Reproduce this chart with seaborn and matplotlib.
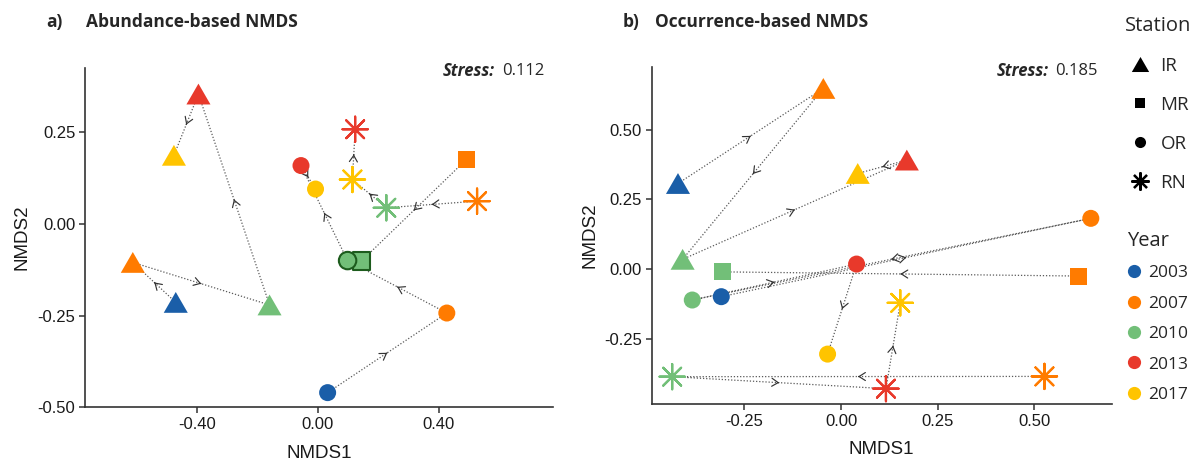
import matplotlib
matplotlib.use("Agg")
import numpy as np
import pandas as pd
import matplotlib.pyplot as plt
from matplotlib.path import Path
from matplotlib.lines import Line2D
import seaborn as sns

# ---------------- data ----------------
stations = ["IR", "MR", "OR", "RN"]
years = ["2003", "2007", "2010", "2013", "2017"]
year_colors = ["#1a5ea8", "#ff7b00", "#72bf78", "#e8392b", "#ffc400"]

# panel a) abundance-based NMDS
a_station = ["IR", "IR", "IR", "IR", "IR", "MR", "MR",
             "OR", "OR", "OR", "OR", "OR", "RN", "RN", "RN", "RN"]
a_year = ["2003", "2007", "2010", "2013", "2017", "2007", "2010",
          "2003", "2007", "2010", "2013", "2017", "2007", "2010", "2013", "2017"]
a_x = [-0.470, -0.612, -0.160, -0.395, -0.476, 0.490, 0.144,
       0.032, 0.426, 0.098, -0.056, -0.008, 0.526, 0.226, 0.123, 0.114]
a_y = [-0.214, -0.105, -0.221, 0.354, 0.187, 0.175, -0.101,
       -0.460, -0.243, -0.100, 0.159, 0.095, 0.062, 0.044, 0.258, 0.121]
a_paths = {"IR": ["2003", "2007", "2010", "2013", "2017"],
           "MR": ["2007", "2010"],
           "OR": ["2003", "2007", "2010", "2013", "2017"],
           "RN": ["2007", "2010", "2017", "2013"]}
a_outlined = [("MR", "2010"), ("OR", "2010")]
a_stress = "0.112"
a_xticks = [-0.40, 0.00, 0.40]
a_xticklabels = ["-0.40", "0.00", "0.40"]
a_yticks = [-0.50, -0.25, 0.00, 0.25]
a_yticklabels = ["-0.50", "-0.25", "0.00", "0.25"]

# panel b) occurrence-based NMDS
b_station = ["IR", "IR", "IR", "IR", "IR", "MR", "MR",
             "OR", "OR", "OR", "OR", "OR", "RN", "RN", "RN", "RN"]
b_year = ["2003", "2007", "2010", "2013", "2017", "2007", "2010",
          "2003", "2007", "2010", "2013", "2017", "2007", "2010", "2013", "2017"]
b_x = [-0.422, -0.046, -0.410, 0.170, 0.043, 0.614, -0.306,
       -0.310, 0.646, -0.385, 0.040, -0.035, 0.526, -0.437, 0.116, 0.153]
b_y = [0.307, 0.648, 0.035, 0.391, 0.343, -0.025, -0.010,
       -0.099, 0.182, -0.111, 0.018, -0.305, -0.385, -0.386, -0.429, -0.121]
b_paths = {"IR": ["2003", "2007", "2010", "2013", "2017"],
           "MR": ["2007", "2010"],
           "OR": ["2003", "2007", "2010", "2013", "2017"],
           "RN": ["2007", "2010", "2013", "2017"]}
b_outlined = []
b_stress = "0.185"
b_xticks = [-0.25, 0.00, 0.25, 0.50]
b_xticklabels = ["-0.25", "0.00", "0.25", "0.50"]
b_yticks = [-0.25, 0.00, 0.25, 0.50]
b_yticklabels = ["-0.25", "0.00", "0.25", "0.50"]

# ---------------- style ----------------
sns.set_theme(style="ticks")
plt.rcParams["font.family"] = ["Liberation Sans", "DejaVu Sans"]
TITLE_FONT = ["Open Sans", "DejaVu Sans"]

palette = dict(zip(years, year_colors))
tri = Path([(0, 0.75), (-0.866, -0.75), (0.866, -0.75), (0, 0.75)],
           [Path.MOVETO, Path.LINETO, Path.LINETO, Path.CLOSEPOLY])
asterisk = (8, 2, 0)
markers = {"IR": tri, "MR": "s", "OR": "o"}
sizes = {"IR": 300, "MR": 150, "OR": 150}
line_col = "#5a5a5a"
spine_col = "#333333"

W, H = 1197, 462
fig = plt.figure(figsize=(W / 100, H / 100), dpi=100)
ax_a = fig.add_axes([85 / W, 1 - 407.3 / H, 468 / W, 339.3 / H])
ax_b = fig.add_axes([651.7 / W, 1 - 404 / H, 460 / W, 337.3 / H])


def draw_panel(ax, station, year, x, y, paths, outlined):
    df = pd.DataFrame({"station": station, "year": year, "x": x, "y": y})

    # trajectories with a direction chevron at each segment midpoint
    for st, order in paths.items():
        sub = df[df.station == st].set_index("year").loc[order]
        xs, ys = sub.x.to_numpy(), sub.y.to_numpy()
        ax.plot(xs, ys, ls=(0, (1, 1.5)), lw=0.9, color=line_col, zorder=1)
        for i in range(len(xs) - 1):
            mx, my = (xs[i] + xs[i + 1]) / 2, (ys[i] + ys[i + 1]) / 2
            dx, dy = (xs[i + 1] - xs[i]) * 1e-3, (ys[i + 1] - ys[i]) * 1e-3
            ax.annotate("", xy=(mx + dx, my + dy), xytext=(mx - dx, my - dy),
                        arrowprops=dict(arrowstyle="->,head_length=0.38,head_width=0.24",
                                        lw=0.85, color="#333333",
                                        shrinkA=0, shrinkB=0),
                        zorder=2)

    filled = df[df.station != "RN"]
    sns.scatterplot(data=filled, x="x", y="y", hue="year", style="station",
                    size="station", palette=palette, markers=markers,
                    sizes=sizes, hue_order=years, style_order=stations[:3],
                    size_order=stations[:3], linewidth=0, edgecolor="none",
                    legend=False, ax=ax, zorder=3)

    if outlined:
        keys = set(outlined)
        hl = filled[[(s, yr) in keys for s, yr in zip(filled.station, filled.year)]]
        sns.scatterplot(data=hl, x="x", y="y", hue="year", style="station",
                        size="station", palette=palette, markers=markers,
                        sizes={k: v * 1.05 for k, v in sizes.items()},
                        hue_order=years, style_order=stations[:3],
                        size_order=stations[:3], linewidth=1.5,
                        edgecolor="#1d5c1d", legend=False, ax=ax, zorder=4)

    rn = df[df.station == "RN"]
    sns.scatterplot(data=rn, x="x", y="y", hue="year", palette=palette,
                    hue_order=years, marker=asterisk, s=330, linewidth=1.6,
                    legend=False, ax=ax, zorder=3)

    sns.despine(ax=ax)
    for sp in ("left", "bottom"):
        ax.spines[sp].set_color(spine_col)
        ax.spines[sp].set_linewidth(1.2)
    ax.tick_params(length=4, width=1.1, color=spine_col, labelsize=12,
                   labelcolor="#1a1a1a", pad=3)
    ax.set_xlabel("NMDS1", fontsize=13.5, color="#1a1a1a")
    ax.set_ylabel("NMDS2", fontsize=13.5, color="#1a1a1a")


draw_panel(ax_a, a_station, a_year, a_x, a_y, a_paths, a_outlined)
draw_panel(ax_b, b_station, b_year, b_x, b_y, b_paths, b_outlined)

ax_a.set_xlim(-0.770, 0.777)
ax_a.set_ylim(-0.50, 0.425)
ax_a.set_xticks(a_xticks)
ax_a.set_xticklabels(a_xticklabels)
ax_a.set_yticks(a_yticks)
ax_a.set_yticklabels(a_yticklabels)

ax_b.set_xlim(-0.49, 0.70)
ax_b.set_ylim(-0.484, 0.726)
ax_b.set_xticks(b_xticks)
ax_b.set_xticklabels(b_xticklabels)
ax_b.set_yticks(b_yticks)
ax_b.set_yticklabels(b_yticklabels)

for ax in (ax_a, ax_b):
    ax.xaxis.set_label_coords(0.5, -0.11)
    ax.yaxis.set_label_coords(-0.135, 0.5)
    ax.yaxis.label.set_va("center")

# panel titles
ty = 1 - 22 / H
fig.text(46.7 / W, ty, "a)", fontsize=12.5, fontweight="bold", va="center", family=TITLE_FONT)
fig.text(86 / W, ty, "Abundance-based NMDS", fontsize=12.5, fontweight="bold",
         va="center", family=TITLE_FONT)
fig.text(623 / W, ty, "b)", fontsize=12.5, fontweight="bold", va="center", family=TITLE_FONT)
fig.text(655 / W, ty, "Occurrence-based NMDS", fontsize=12.5, fontweight="bold",
         va="center", family=TITLE_FONT)

# stress annotations
sy = 1 - 71 / H
for x_lab, x_num, val in ((495, 502, a_stress), (1049, 1055, b_stress)):
    fig.text(x_lab / W, sy, "Stress:", fontsize=12, fontweight="bold",
             fontstyle="italic", ha="right", va="center", family=TITLE_FONT)
    fig.text(x_num / W, sy, val, fontsize=12, ha="left", va="center",
             family=TITLE_FONT)

# legends
st_handles = [
    Line2D([], [], ls="none", marker=tri, color="black", markersize=12.5, markeredgewidth=0),
    Line2D([], [], ls="none", marker="s", color="black", markersize=7.5, markeredgewidth=0),
    Line2D([], [], ls="none", marker="o", color="black", markersize=8, markeredgewidth=0),
    Line2D([], [], ls="none", marker=asterisk, color="black", markersize=13, markeredgewidth=1.6),
]
leg1 = fig.legend(handles=st_handles, labels=stations, title="Station",
                  loc="upper left", bbox_to_anchor=(1125 / W, 1 - 16 / H),
                  frameon=False, prop={"family": TITLE_FONT, "size": 13.5},
                  title_fontproperties={"family": TITLE_FONT, "size": 14.5},
                  handlelength=1.6, handletextpad=0.3, labelspacing=1.12,
                  borderpad=0, borderaxespad=0, alignment="left")

yr_handles = [Line2D([], [], ls="none", marker="o", color=c, markersize=9.5,
                     markeredgewidth=0) for c in year_colors]
leg2 = fig.legend(handles=yr_handles, labels=years, title="Year",
                  loc="upper left", bbox_to_anchor=(1127 / W, 1 - 231 / H),
                  frameon=False, prop={"family": TITLE_FONT, "size": 12.5},
                  title_fontproperties={"family": TITLE_FONT, "size": 14.5},
                  handlelength=0.8, handletextpad=0.4, labelspacing=0.82,
                  borderpad=0, borderaxespad=0, alignment="left")

fig.savefig("out.png", dpi=100)
